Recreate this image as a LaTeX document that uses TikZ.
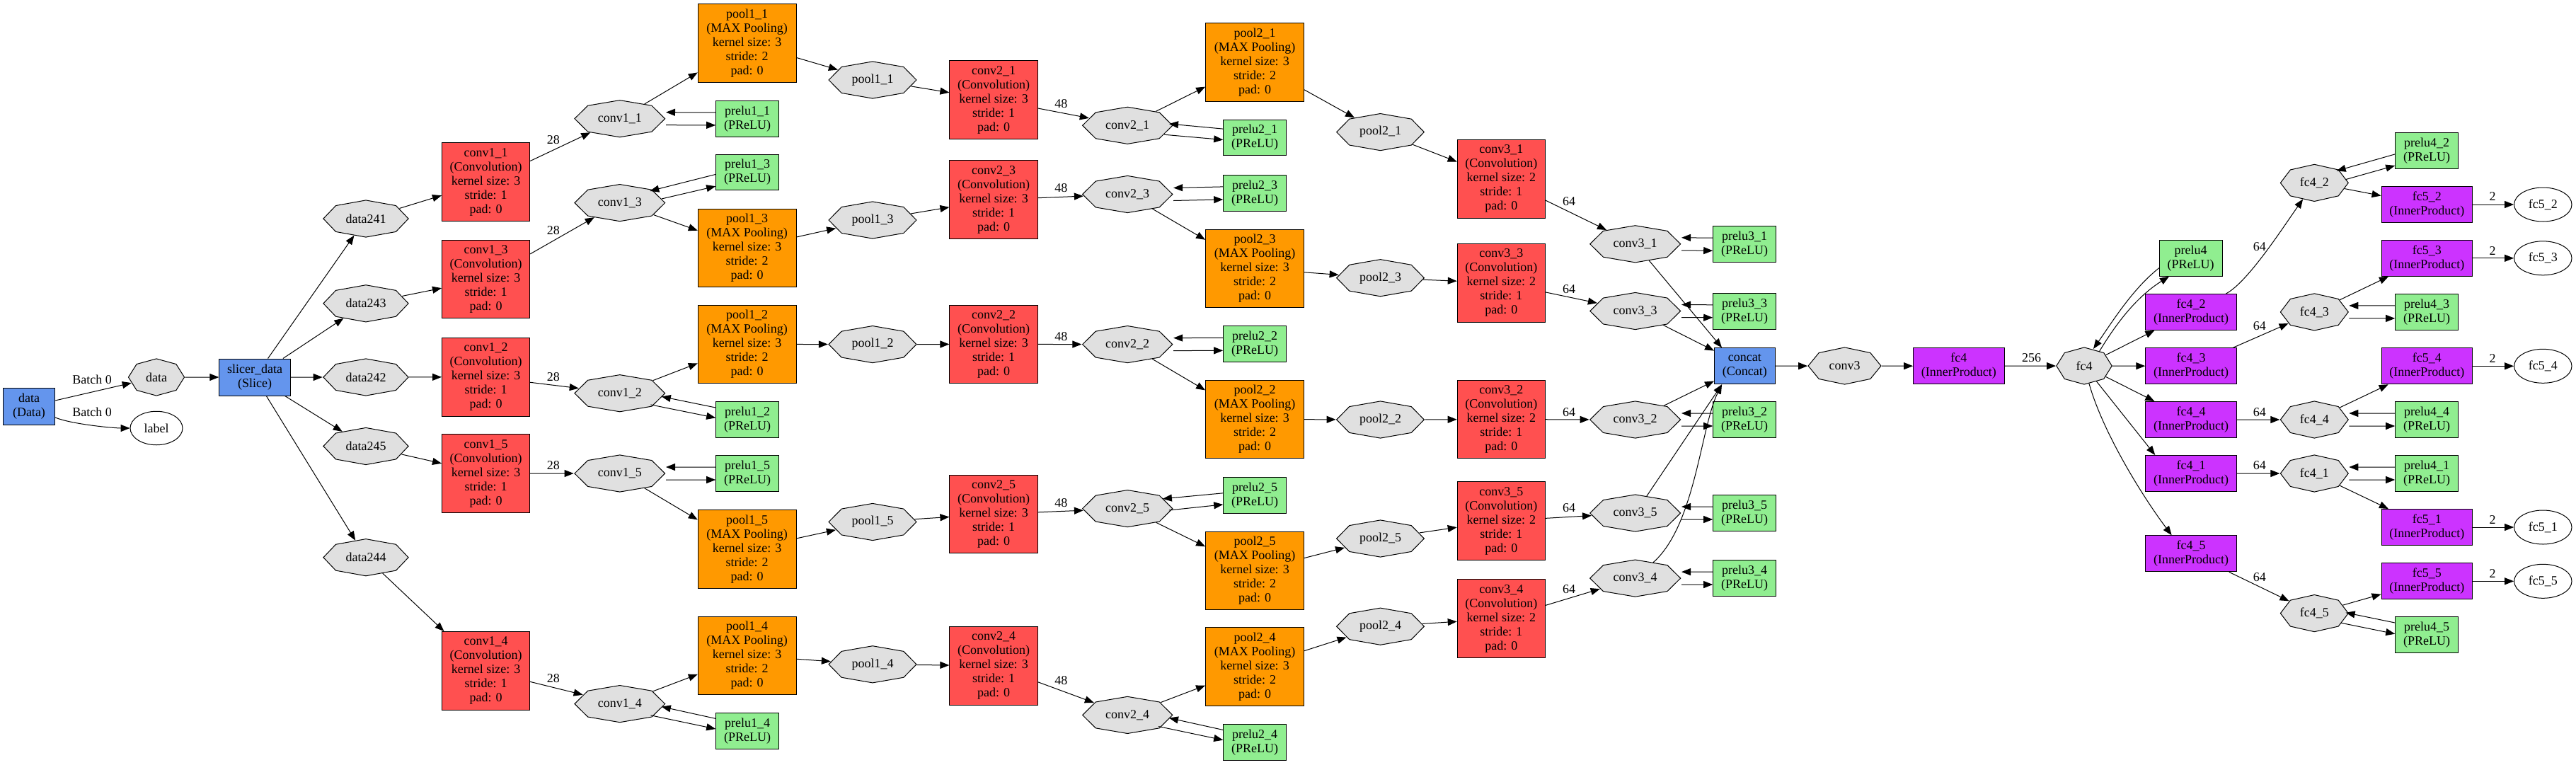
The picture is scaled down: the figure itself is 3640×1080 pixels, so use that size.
\documentclass[tikz,border=0pt]{standalone}
\usepackage{fontspec}
\setmainfont{Liberation Serif}
\usetikzlibrary{shapes.geometric,arrows.meta,calc}
\definecolor{cblue}{HTML}{6495ED}
\definecolor{cred}{HTML}{FF5050}
\definecolor{corange}{HTML}{FF9900}
\definecolor{cpurple}{HTML}{CC33FF}
\definecolor{cgreen}{HTML}{90EE90}
\definecolor{cgray}{HTML}{E0E0E0}
\tikzset{
  base/.style={draw=black, line width=1pt, inner sep=0pt, align=center, font=\fontsize{18}{20}\selectfont},
  convbox/.style={base, rectangle, fill=cred, minimum width=124.2pt, minimum height=110.7pt},
  poolbox/.style={base, rectangle, fill=corange, minimum width=138.8pt, minimum height=110.7pt},
  prelubox/.style={base, rectangle, fill=cgreen, minimum width=88.6pt, minimum height=50.7pt},
  ipbox/.style={base, rectangle, fill=cpurple, minimum width=128.5pt, minimum height=51pt},
  bluebox/.style={base, rectangle, fill=cblue, minimum height=52pt},
  blob/.style={base, regular polygon, regular polygon sides=8, shape border rotate=22.5, minimum size=52.17pt, fill=cgray, transform shape},
  outel/.style={base, ellipse, fill=white, minimum width=81.4pt, minimum height=48pt},
  e/.style={draw, line width=1pt, -{Triangle[length=13pt,width=10pt]}},
  lab/.style={inner sep=0pt, font=\fontsize{18}{20}\selectfont},
}
\newcommand\blobnode[5]{%
  \pgfmathsetmacro\blobxs{#4/48.2}%
  \pgfmathsetmacro\blobinv{48.2/#4}%
  \begin{scope}[shift={(#2,#3)}]
    \node[blob, xscale=\blobxs] (#1) at (0,0) {\scalebox{\blobinv}[1]{#5}};
  \end{scope}}
\newcommand\hpair[2]{%
  \draw[e] ($(#2.west)+(0,-9)$) -- ($(#1.east)+(0,-9)$);
  \draw[e] ($(#1.east)+(0,9)$) -- ($(#2.west)+(0,9)$);}
\newcommand\dpair[8]{%
  \draw[e] ($(#2.west)+(0,#3)$) -- ($(#1.center)+(#4,#5)$);
  \draw[e] ($(#1.center)+(#6,#7)$) -- ($(#2.west)+(0,#8)$);}
\begin{document}
\begin{tikzpicture}[x=1pt,y=-1pt]
\useasboundingbox[fill=white] (0,0) rectangle (3640,1080);

% ---------- input ----------
\node[bluebox, minimum width=73pt] (databox) at (41,574.5) {data\\(Data)};
\node[outel, minimum width=74pt, minimum height=47.5pt] (labelnode) at (221,605) {label};
\blobnode{dataoct}{221}{533}{73}{data}
\node[bluebox, minimum width=100.4pt] (slicer) at (360,533) {slicer\_data\\(Slice)};
\foreach \d/\y in {241/309,243/428.8,242/533,245/630.5,244/787.7}
  {\blobnode{d\d}{517}{\y}{111}{data\d}}

% ---------- stage 1 ----------
\foreach \i/\y in {1/257,3/394.5,2/532.7,5/669,4/947.9}
  {\node[convbox] (cv1\i) at (686.6,\y) {conv1\_\i\\(Convolution)\\kernel size: 3\\stride: 1\\pad: 0};}
\foreach \i/\y in {1/167.7,3/286.6,2/555.7,5/669,4/994.6}
  {\blobnode{ocv1\i}{875.8}{\y}{118}{conv1\_\i}}
\foreach \i/\y in {1/61,3/350.5,2/486.4,5/776,4/926.4}
  {\node[poolbox] (pl1\i) at (1055.7,\y) {pool1\_\i\\(MAX Pooling)\\kernel size: 3\\stride: 2\\pad: 0};}
\foreach \i/\y in {1/167.9,3/243.6,2/592.9,5/669,4/1032.9}
  {\node[prelubox] (pr1\i) at (1056,\y) {prelu1\_\i\\(PReLU)};}
\foreach \i/\y in {1/113,3/311,2/486.6,5/737.5,4/938.8}
  {\blobnode{opl1\i}{1233}{\y}{114.5}{pool1\_\i}}

% ---------- stage 2 ----------
\foreach \i/\y in {1/141,3/282.3,2/486.4,5/726.4,4/940.7}
  {\node[convbox] (cv2\i) at (1404,\y) {conv2\_\i\\(Convolution)\\kernel size: 3\\stride: 1\\pad: 0};}
\foreach \i/\y in {1/177.3,3/274.5,2/486.6,5/718.6,4/1010.4}
  {\blobnode{ocv2\i}{1593.2}{\y}{117.5}{conv2\_\i}}
\foreach \i/\y in {1/88,3/379.6,2/592.5,5/806.4,4/942.1}
  {\node[poolbox] (pl2\i) at (1773,\y) {pool2\_\i\\(MAX Pooling)\\kernel size: 3\\stride: 2\\pad: 0};}
\foreach \i/\y in {1/194.5,3/272.9,2/486.3,5/700,4/1049}
  {\node[prelubox] (pr2\i) at (1773,\y) {prelu2\_\i\\(PReLU)};}
\foreach \i/\y in {1/186.6,3/392.7,2/593,5/761,4/885.2}
  {\blobnode{opl2\i}{1950.5}{\y}{114.3}{pool2\_\i}}

% ---------- stage 3 ----------
\foreach \i/\y in {1/252.7,3/399.8,2/592.6,5/736,4/874.3}
  {\node[convbox] (cv3\i) at (2121.3,\y) {conv3\_\i\\(Convolution)\\kernel size: 2\\stride: 1\\pad: 0};}
\foreach \i/\y in {1/344.8,3/439.5,2/593,5/725,4/817.1}
  {\blobnode{ocv3\i}{2310.7}{\y}{118.2}{conv3\_\i}}
\foreach \i/\y in {1/345.2,3/439.8,2/593,5/725,4/817}
  {\node[prelubox] (pr3\i) at (2465,\y) {prelu3\_\i\\(PReLU)};}

\node[bluebox, minimum width=85.5pt, minimum height=51pt] (concat) at (2465.3,517.3) {concat\\(Concat)};
\blobnode{oconv3}{2606.5}{517}{95}{conv3}
\node[ipbox] (fc4) at (2767.8,517.3) {fc4\\(InnerProduct)};
\blobnode{ofc4}{2945}{517}{72.4}{fc4}
\node[prelubox] (pr4) at (3095.7,364.8) {prelu4\\(PReLU)};

% ---------- heads ----------
\foreach \i/\y in {2/440.9,3/517.3,4/593,1/669,5/782.3}
  {\node[ipbox] (f4\i) at (3096,\y) {fc4\_\i\\(InnerProduct)};}
\foreach \i/\y in {2/258.4,3/440.9,4/593,1/669,5/866.6}
  {\blobnode{of4\i}{3270.3}{\y}{88.6}{fc4\_\i}}
\foreach \i/\y in {2/212.9,3/440.9,4/593,1/669,5/897.3}
  {\node[prelubox] (pr4\i) at (3429,\y) {prelu4\_\i\\(PReLU)};}
\foreach \i/\y in {2/289,3/364.8,4/517.3,1/745,5/821.3}
  {\node[ipbox] (f5\i) at (3429.3,\y) {fc5\_\i\\(InnerProduct)};
   \node[outel] (e5\i) at (3593.3,\y) {fc5\_\i};}

% ================= edges =================
\draw[e] (databox) -- (dataoct) node[lab] (lb1) at (130,536) {Batch 0};
\draw[e] (databox) .. controls +(60,25) and +(-60,0) .. (labelnode) node[lab] (lb2) at (130,582.5) {Batch 0};
\draw[e] (dataoct) -- (slicer);
\foreach \d/\i in {241/1,243/3,242/2,245/5,244/4}
  {\draw[e] (slicer) -- (d\d);
   \draw[e] (d\d) -- (cv1\i);}

% stage 1
\foreach \i/\ly in {1/198,3/326,2/532.5,5/658,4/958.6}
  {\draw[e] (cv1\i) -- (ocv1\i) node[lab] (t28\i) at (781.9,\ly) {28};
   \draw[e] (ocv1\i) -- (pl1\i);
   \draw[e] (pl1\i) -- (opl1\i);
   \draw[e] (opl1\i) -- (cv2\i);}
\hpair{ocv11}{pr11}
\hpair{ocv15}{pr15}
\dpair{ocv13}{pr13}{2.8}{42.5}{-16.7}{59}{-5.6}{19.6}
\dpair{ocv12}{pr12}{-16.9}{59}{4.7}{43.7}{16.2}{-2.5}
\dpair{ocv14}{pr14}{-17.5}{59}{4}{43.7}{16.2}{-2.9}

% stage 2
\foreach \i/\ly in {1/146.4,3/266,2/476,5/710.4,4/962}
  {\draw[e] (cv2\i) -- (ocv2\i) node[lab] (t48\i) at (1499.3,\ly) {48};
   \draw[e] (ocv2\i) -- (pl2\i);
   \draw[e] (pl2\i) -- (opl2\i);
   \draw[e] (opl2\i) -- (cv3\i);}
\hpair{ocv23}{pr23}
\hpair{ocv22}{pr22}
\dpair{ocv21}{pr21}{-12.4}{58.75}{-2.3}{51.6}{12.9}{3}
\dpair{ocv25}{pr25}{-3.2}{49.7}{-13.8}{58.75}{2.4}{12.9}
\dpair{ocv24}{pr24}{-17.6}{58.75}{4.2}{43.8}{16.1}{-3.3}

% stage 3
\foreach \i/\ly in {1/285,3/408.2,2/582.5,5/718,4/833}
  {\draw[e] (cv3\i) -- (ocv3\i) node[lab] (t64\i) at (2217.2,\ly) {64};
   \hpair{ocv3\i}{pr3\i}}
\draw[e] (ocv31) -- ($(concat.north west)+(11,0)$);
\draw[e] (ocv33) -- (concat);
\draw[e] (ocv32) -- (concat);
\draw[e] (ocv35) -- ($(concat.south west)+(11,0)$);
\draw[e] (ocv34) .. controls +(85,-75) and +(-30,60) .. ($(concat.south west)+(11,0)$);

\draw[e] (concat) -- (oconv3);
\draw[e] (oconv3) -- (fc4);
\draw[e] (fc4) -- (ofc4) node[lab] (t256) at (2870.5,506) {256};

% fc4 fan-out
\draw[e] ($(pr4.west)+(0,13.8)$) .. controls +(-38,30) and +(26,-37) .. ($(ofc4.center)+(13,-24.1)$);
\draw[e] ($(ofc4.center)+(21.2,-20)$) .. controls +(30,-50) and +(-40,25) .. ($(pr4.south west)+(14.1,0)$);
\draw[e] (ofc4) -- (f42);
\draw[e] (ofc4) -- (f43);
\draw[e] (ofc4) -- (f44);
\draw[e] (ofc4) -- ($(f41.north west)+(14,0)$);
\draw[e] (ofc4) .. controls +(25,90) and +(-45,-60) .. ($(f45.north west)+(37.4,0)$);

% heads
\draw[e] (f42) .. controls +(80,-42) and +(-45,64) .. (of42) node[lab] (t642) at (3192.8,349) {64};
\foreach \i/\ly in {3/460.7,4/582.5,1/658,5/815.7}
  {\draw[e] (f4\i) -- (of4\i) node[lab] (t64f\i) at (3192.8,\ly) {64};}
\foreach \i/\ly in {2/277.9,3/354.6,4/506.4,1/734.3,5/810.4}
  {\draw[e] (of4\i) -- (f5\i);
   \draw[e] (f5\i) -- (e5\i) node[lab] (t2\i) at (3522.2,\ly) {2};}
\hpair{of43}{pr43}
\hpair{of44}{pr44}
\hpair{of41}{pr41}
\dpair{of42}{pr42}{5}{31.3}{-17}{44.3}{-4.8}{21.1}
\dpair{of45}{pr45}{-17.3}{44.3}{-0.9}{37.6}{13.6}{-1.6}
\end{tikzpicture}
\end{document}
